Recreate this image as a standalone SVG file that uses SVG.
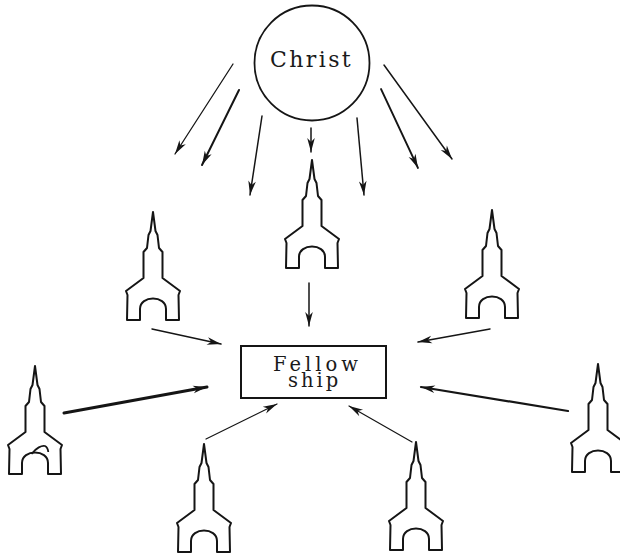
<svg xmlns="http://www.w3.org/2000/svg" width="620" height="555" viewBox="0 0 620 555">
<style>
.ch{fill:#fff;stroke:#151515;stroke-width:2;stroke-linejoin:round}
.ar{stroke:#151515;fill:none;stroke-linecap:round;marker-end:url(#ah)}
.t{font-family:"DejaVu Serif","Liberation Serif",serif;fill:#1a1a1a}
</style>
<defs>
<marker id="ah" markerUnits="userSpaceOnUse" viewBox="-15 -5 16 10" refX="0" refY="0" markerWidth="16" markerHeight="10" orient="auto">
<path d="M0,0 L-14,-3.8 L-10,0 L-14,3.8 Z" fill="#151515"/>
</marker>
<path id="church" class="ch" d="M0,0 L2.5,19 L4.5,23 L6,36 L9.5,40 L9.5,66 L27,79 L25.5,83 L26,108 L13,108 L13,97 C13,83 -13,83 -13,97 L-13,108 L-26,108 L-25.5,83 L-27,79 L-9.5,66 L-9.5,40 L-6,36 L-4.5,23 L-2.5,19 Z"/>
</defs>
<rect width="620" height="555" fill="#fff"/>
<g id="christ">
<circle cx="312" cy="63" r="57.5" fill="none" stroke="#151515" stroke-width="1.8"/>
<text class="t" x="270" y="66.5" font-size="22" letter-spacing="2.4">Christ</text>
</g>
<g id="fellowship">
<rect x="241" y="346" width="145" height="52" fill="none" stroke="#151515" stroke-width="2"/>
<text class="t" x="273" y="370.5" font-size="19.5" letter-spacing="4">Fellow</text>
<text class="t" x="288" y="387" font-size="19.5" letter-spacing="3">ship</text>
</g>
<g id="church-top"><use href="#church" x="312" y="160"/></g>
<g id="church-left-upper"><use href="#church" x="153" y="212"/></g>
<g id="church-right-upper"><use href="#church" x="492" y="210"/></g>
<g id="church-left-lower"><use href="#church" x="35" y="366"/>
<path d="M31.5,454 C36,448 42,445 45,446 C47,447 48,449 48.3,452" fill="none" stroke="#151515" stroke-width="1.8"/></g>
<g id="church-bottom-left"><use href="#church" x="204" y="444"/></g>
<g id="church-bottom-right"><use href="#church" x="416" y="442"/></g>
<g id="church-right-lower"><use href="#church" x="598" y="364"/></g>
<g id="connectors">
<line class="ar" x1="233" y1="64" x2="175" y2="154" stroke-width="1.3"/>
<line class="ar" x1="239" y1="90" x2="202" y2="165" stroke-width="2"/>
<line class="ar" x1="262" y1="116" x2="250" y2="195" stroke-width="1.5"/>
<line class="ar" x1="311" y1="128" x2="311" y2="152" stroke-width="1.5"/>
<line class="ar" x1="357" y1="118" x2="364" y2="195" stroke-width="1.5"/>
<line class="ar" x1="381" y1="89" x2="418" y2="168" stroke-width="1.8"/>
<line class="ar" x1="384" y1="65" x2="452" y2="159" stroke-width="1.5"/>
<line class="ar" x1="309" y1="283" x2="309" y2="326" stroke-width="1.5"/>
<line class="ar" x1="152" y1="329" x2="221" y2="344" stroke-width="1.5"/>
<line class="ar" x1="64" y1="413" x2="207" y2="387" stroke-width="3"/>
<line class="ar" x1="206" y1="439" x2="277" y2="404" stroke-width="1.2"/>
<line class="ar" x1="412" y1="442" x2="349" y2="406" stroke-width="1.2"/>
<line class="ar" x1="490" y1="329" x2="418" y2="342" stroke-width="1.5"/>
<line class="ar" x1="568" y1="411" x2="421" y2="387" stroke-width="2.2"/>
</g>
</svg>
